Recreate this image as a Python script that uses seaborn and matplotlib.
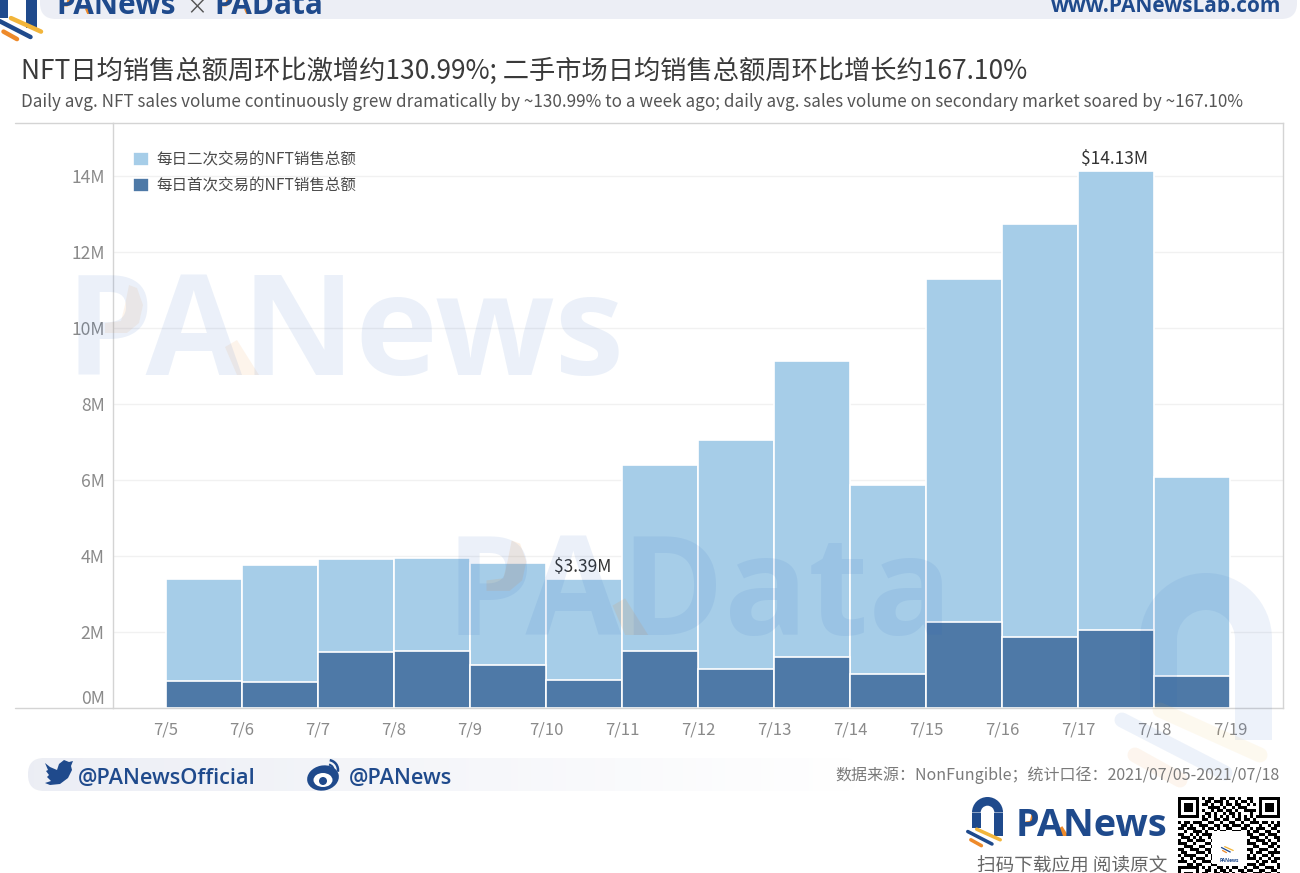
import numpy as np
import pandas as pd
import seaborn as sns
import matplotlib.pyplot as plt
from matplotlib.patches import FancyBboxPatch, Wedge, Rectangle, Polygon, Ellipse, Arc

# values in $M
days = ["7/5", "7/6", "7/7", "7/8", "7/9", "7/10", "7/11", "7/12", "7/13", "7/14", "7/15", "7/16", "7/17", "7/18"]
total_sales = [3.39, 3.76, 3.92, 3.95, 3.82, 3.39, 6.39, 7.05, 9.13, 5.87, 11.29, 12.74, 14.13, 6.08]
first_sales = [0.71, 0.68, 1.47, 1.50, 1.13, 0.74, 1.50, 1.03, 1.34, 0.89, 2.26, 1.87, 2.05, 0.84]
tick_days = days + ["7/19"]
y_ticks = [0, 2, 4, 6, 8, 10, 12, 14]
y_labels = ["0M", "2M", "4M", "6M", "8M", "10M", "12M", "14M"]
labelled_days = ["7/10", "7/17"]
series_names = ["每日二次交易的NFT销售总额", "每日首次交易的NFT销售总额"]

title = "NFT日均销售总额周环比激增约130.99%; 二手市场日均销售总额周环比增长约167.10%"
subtitle = "Daily avg. NFT sales volume continuously grew dramatically by ~130.99% to a week ago; daily avg. sales volume on secondary market soared by ~167.10%"
source = "数据来源：NonFungible；统计口径：2021/07/05-2021/07/18"

LIGHT = "#a6cde8"
DARK = "#4e79a7"
NAVY = "#1f4a8c"
ORANGE = "#ee8a2a"
MARK = "#2460c0"

sns.set_theme(style="white")
plt.rcParams['font.family'] = ['Noto Sans CJK SC', 'DejaVu Sans']

fig = plt.figure(figsize=(13, 8.73), dpi=100)
ax = fig.add_axes([113 / 1300, 165 / 873, 1170 / 1300, 585 / 873])

df = pd.DataFrame({
    "day": days + days,
    "value": total_sales + first_sales,
    "series": [series_names[0]] * len(days) + [series_names[1]] * len(days),
})
sns.barplot(data=df, x="day", y="value", hue="series", dodge=False, width=1, saturation=1,
            palette=[LIGHT, DARK], edgecolor="white", linewidth=1.2, errorbar=None, ax=ax, zorder=2)

ax.set_xlim(-1.197, 14.197)
ax.set_ylim(0, 585 / 38)
ax.set_xlabel("")
ax.set_ylabel("")
ax.set_xticks(np.arange(len(tick_days)) - 0.5)
ax.set_xticklabels(tick_days, color="#8a8a8a", fontsize=12)
ax.set_yticks(y_ticks)
ax.set_yticklabels(y_labels, color="#8a8a8a", fontsize=12.6)
ax.get_yticklabels()[0].set_verticalalignment("bottom")
ax.tick_params(axis="x", length=0, pad=10)
ax.tick_params(axis="y", length=0, pad=6)
ax.grid(axis="y", color="#f1f1f1", linewidth=1, zorder=0)
ax.set_axisbelow(True)
for s in ax.spines.values():
    s.set_visible(True)
    s.set_color("#d4d4d4")
    s.set_linewidth(1)

for d in labelled_days:
    i = days.index(d)
    ax.annotate("$%.2fM" % total_sales[i], (i, total_sales[i]), xytext=(-1, 9), textcoords="offset points",
                ha="center", va="center", fontsize=12.5, color="#333333")

leg = ax.legend(loc="upper left", bbox_to_anchor=(0.012, 0.962), frameon=False, fontsize=11.2, title=None,
                handlelength=1.0, handleheight=1.0, labelspacing=0.6, handletextpad=0.5, borderaxespad=0)
for t in leg.get_texts():
    t.set_color("#4a4a4a")

# everything in picture pixels from here on
top = fig.add_axes([0, 0, 1, 1], zorder=5)
top.set_xlim(0, 1300)
top.set_ylim(873, 0)
top.axis("off")


def arch(x0, y0, k, alpha=1.0, c=NAVY, right_len=167, left_len=133):
    top.add_patch(Wedge((x0 + 66 * k, y0 + 66 * k), 66 * k, 180, 360, width=37 * k, color=c, alpha=alpha, lw=0))
    top.add_patch(Rectangle((x0, y0 + 66 * k), 37 * k, (left_len - 66) * k, color=c, alpha=alpha, lw=0))
    top.add_patch(Rectangle((x0 + 95 * k, y0 + 66 * k), 37 * k, (right_len - 66) * k, color=c, alpha=alpha, lw=0))


def stripes(x0, y0, k, alpha=1.0, blue=NAVY):
    w = 15 * k * 0.72
    top.plot([x0 + 20 * k, x0 + 120 * k], [y0 + 137 * k, y0 + 182 * k], color="#f2b53a", lw=w, alpha=alpha, solid_capstyle="round")
    top.plot([x0 - 18 * k, x0 + 85 * k], [y0 + 147 * k, y0 + 200 * k], color=blue, lw=w, alpha=alpha, solid_capstyle="round")
    top.plot([x0 - 5 * k, x0 + 40 * k], [y0 + 182 * k, y0 + 207 * k], color=ORANGE, lw=w, alpha=alpha, solid_capstyle="round")


def word_orange(x0, y0, h, alpha=1.0):
    p = [(.54, .1), (.62, .13), (.68, .3), (.64, .48), (.52, .58), (.3, .58), (.3, .48), (.46, .46), (.5, .3)]
    a = [(1.5, .72), (1.62, .65), (1.84, 1.0), (1.62, 1.0)]
    for pts in (p, a):
        top.add_patch(Polygon([(x0 + u * h, y0 + v * h) for u, v in pts], color=ORANGE, alpha=alpha, lw=0))


# header band
top.add_patch(FancyBboxPatch((40, -40), 1257, 59, boxstyle="round,pad=0,rounding_size=16", color="#eceef5", lw=0))
arch(-3, -22, 0.3)
stripes(5, -23, 0.3)
top.text(56, 14, "PANews", family="Open Sans", weight="bold", fontsize=21.5, color=NAVY, va="baseline", clip_on=True)
word_orange(58, -4, 18)
top.text(197, 13, "×", fontsize=15, color="#555555", ha="center", va="baseline", clip_on=True)
top.text(214, 14, "PAData", family="Open Sans", weight="bold", fontsize=21.5, color=NAVY, va="baseline", clip_on=True)
word_orange(217, -4, 18)
top.text(1281, 12, "www.PANewsLab.com", family="Open Sans", weight="bold", fontsize=15, color=NAVY, ha="right", va="baseline", clip_on=True)

# titles
top.text(21, 71, title, fontsize=18.93, color="#3a3a3a", va="center")
top.text(21, 102, subtitle, fontsize=12.3, color="#555555", va="center")

# axis lines run past the y axis on the left
top.plot([15, 113], [123, 123], color="#d4d4d4", lw=1)
top.plot([15, 113], [708, 708], color="#d4d4d4", lw=1)

# watermarks
top.text(66, 375, "PANews", family="Open Sans", weight="bold", fontsize=100.5, color=MARK, alpha=0.09, va="baseline")
word_orange(75, 275, 100, alpha=0.09)
top.text(445, 635, "PAData", family="Open Sans", weight="bold", fontsize=100, color=MARK, alpha=0.09, va="baseline")
word_orange(455, 530, 105, alpha=0.12)
arch(1140, 573, 1.0, alpha=0.08, c=MARK)
stripes(1140, 573, 1.0, alpha=0.08, blue=MARK)

# footer band fades out to the right
band = FancyBboxPatch((28, 758), 830, 33, boxstyle="round,pad=0,rounding_size=16", facecolor="none", edgecolor="none")
top.add_patch(band)
fade = np.linspace(0, 1, 256).reshape(1, -1, 1)
grad = np.concatenate([0.925 + 0.075 * fade, 0.933 + 0.067 * fade, 0.96 + 0.04 * fade], axis=2)
im = top.imshow(grad, extent=(28, 858, 791, 758), aspect="auto", zorder=0)
im.set_clip_path(band)
top.set_xlim(0, 1300)
top.set_ylim(873, 0)

bird = [(45, 763), (50, 767), (57, 770), (59, 764), (64, 760), (69, 762), (73, 761), (71, 766), (72, 770),
        (68, 778), (60, 784), (50, 785), (45, 783), (51, 781), (47, 777), (49, 775), (46, 771), (48, 770)]
top.add_patch(Polygon(bird, color=NAVY, lw=0))
top.text(78, 778, "@PANewsOfficial", family="Open Sans", weight="semibold", fontsize=15.7, color=NAVY, va="center")
top.add_patch(Ellipse((323, 778), 32, 25, angle=-12, color=NAVY, lw=0))
top.add_patch(Ellipse((323, 780), 19, 14, color="white", lw=0))
top.add_patch(Ellipse((323, 781), 8, 8, color=NAVY, lw=0))
top.add_patch(Arc((328, 770), 20, 20, theta1=-80, theta2=10, color=NAVY, lw=1.8))
top.add_patch(Arc((328, 770), 11, 11, theta1=-80, theta2=10, color=NAVY, lw=1.5))
top.text(349, 778, "@PANews", family="Open Sans", weight="semibold", fontsize=15.7, color=NAVY, va="center")
top.text(1280, 775, source, fontsize=11.5, color="#7a7a7a", ha="right", va="center")

# bottom right logo
arch(972, 797, 0.235)
stripes(972, 797, 0.235)
top.text(1016, 836, "PANews", family="Open Sans", weight="bold", fontsize=27.3, color=NAVY, va="baseline")
word_orange(1017, 808, 28)
top.text(1167, 867, "扫码下载应用 阅读原文", fontsize=13.4, color="#666666", ha="right", va="center", clip_on=True)

qr_rows = [
    "1111111010110011011010011001111111",
    "1000001001101110100101101001000001",
    "1011101011010010110110010101011101",
    "1011101000111101001011100001011101",
    "1011101010010110110100111101011101",
    "1000001001101001011010001001000001",
    "1111111010101010101010101011111111",
    "0000000011001101100110110100000000",
    "1011011100110010011001001110110101",
    "0110100111001101101110110001001011",
    "1101110010110100110001101011100110",
    "0010011101001011001110010110011001",
    "1100101011110000000000011001101110",
    "0111010100101000000000001110010011",
    "1001101110010000000000010011101001",
    "1110010001101000000000011100110110",
    "0011100110011000000000000110001101",
    "1100111001100000000000011001110010",
    "0110001110101000000000001011001111",
    "1011110001011000000000010100110100",
    "0100101110010000000000011101001011",
    "1110010011101000000000000010110110",
    "0001101100011000000000011101100001",
    "1111111010100110101100100110011101",
    "1000001001101011010011011001100110",
    "1011101011001101101001100111011001",
]
qr = 1 - np.array([[int(c) for c in r] for r in qr_rows])
top.imshow(qr, cmap="gray", extent=(1178, 1280, 875, 797), aspect="auto", interpolation="nearest", zorder=1, vmin=0, vmax=1)
top.set_xlim(0, 1300)
top.set_ylim(873, 0)
top.add_patch(Rectangle((1212, 831), 34, 33, color="white", lw=0, zorder=2))
arch(1223, 835, 0.085)
stripes(1223, 835, 0.085)
top.text(1229, 860, "PANews", family="Open Sans", weight="bold", fontsize=3.5, color=NAVY, ha="center", va="center", zorder=3)

fig.savefig("out.png", dpi=100)
